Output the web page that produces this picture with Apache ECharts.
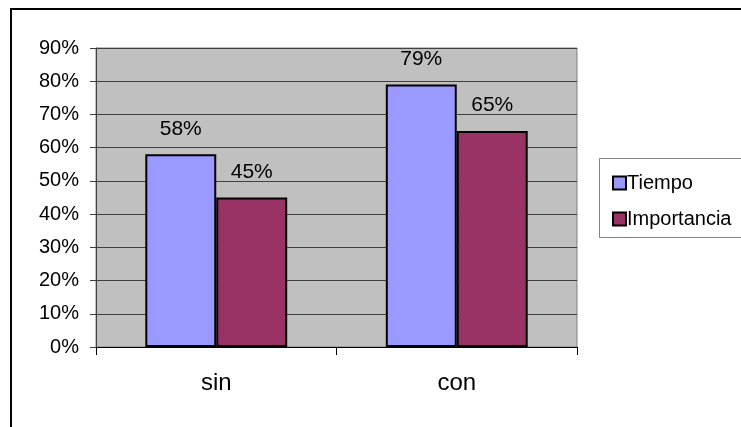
<!DOCTYPE html>
<html>
<head>
<meta charset="UTF-8">
<title>Tiempo / Importancia</title>
<script src="https://cdn.jsdelivr.net/npm/echarts@6/dist/echarts.min.js"></script>
<style>
  html, body { margin: 0; padding: 0; background: #fff; }
  #main { width: 741px; height: 427px; }
</style>
</head>
<body>
<div id="main"></div>
<script type="text/javascript">
    // data
    var categories = ['sin', 'con'];
    var tiempo = [58, 79];
    var importancia = [45, 65];
    var yTicks = [0, 10, 20, 30, 40, 50, 60, 70, 80, 90];

    var font = '"Liberation Sans", Arial, sans-serif';
    var myChart = echarts.init(document.getElementById('main'));

    var option = {
        backgroundColor: '#fff',
        animation: false,
        textStyle: { fontFamily: font, color: '#000' },
        graphic: [
            {
                // outer chart frame, cut off on the right and bottom
                type: 'rect',
                shape: { x: 11, y: 9, width: 760, height: 440 },
                style: { fill: 'none', stroke: '#000', lineWidth: 2 },
                z: -1
            },
            {
                // legend frame
                type: 'rect',
                shape: { x: 599.5, y: 158.5, width: 160, height: 79 },
                style: { fill: '#fff', stroke: '#808080', lineWidth: 1 },
                z: 0
            }
        ],
        legend: {
            orient: 'vertical',
            left: 607,
            top: 168,
            itemGap: 16,
            itemWidth: 13,
            itemHeight: 13,
            icon: 'rect',
            textStyle: { fontFamily: font, fontSize: 20, color: '#000', padding: [0, 0, 0, -4] },
            data: ['Tiempo', 'Importancia'],
            z: 5
        },
        grid: {
            show: true,
            left: 96,
            top: 48,
            right: 164,
            bottom: 80,
            backgroundColor: '#c0c0c0',
            borderColor: '#808080',
            borderWidth: 1,
            containLabel: false
        },
        xAxis: {
            type: 'category',
            data: categories,
            axisLine: { lineStyle: { color: '#000', width: 1 } },
            axisTick: { show: true, length: 8, lineStyle: { color: '#000' } },
            axisLabel: { fontFamily: font, fontSize: 24, color: '#000', margin: 24 }
        },
        yAxis: {
            type: 'value',
            min: yTicks[0],
            max: yTicks[yTicks.length - 1],
            interval: yTicks[1] - yTicks[0],
            axisLine: { show: true, lineStyle: { color: '#404040', width: 1 } },
            axisTick: { show: true, length: 6, lineStyle: { color: '#404040' } },
            axisLabel: {
                fontFamily: font, fontSize: 20, color: '#000', margin: 17,
                formatter: '{value}%'
            },
            splitLine: { show: true, lineStyle: { color: '#404040', width: 1 } }
        },
        series: [
            {
                name: 'Tiempo',
                type: 'bar',
                data: tiempo,
                barGap: '0%',
                barCategoryGap: '41%',
                itemStyle: { color: '#9999ff', borderColor: '#000', borderWidth: 2 },
                label: {
                    show: true, position: 'top', distance: 15,
                    fontFamily: font, fontSize: 21, color: '#000',
                    formatter: '{c}%'
                }
            },
            {
                name: 'Importancia',
                type: 'bar',
                data: importancia,
                itemStyle: { color: '#993366', borderColor: '#000', borderWidth: 2 },
                label: {
                    show: true, position: 'top', distance: 15,
                    fontFamily: font, fontSize: 21, color: '#000',
                    formatter: '{c}%'
                }
            }
        ]
    };

    myChart.setOption(option);
</script>
</body>
</html>
